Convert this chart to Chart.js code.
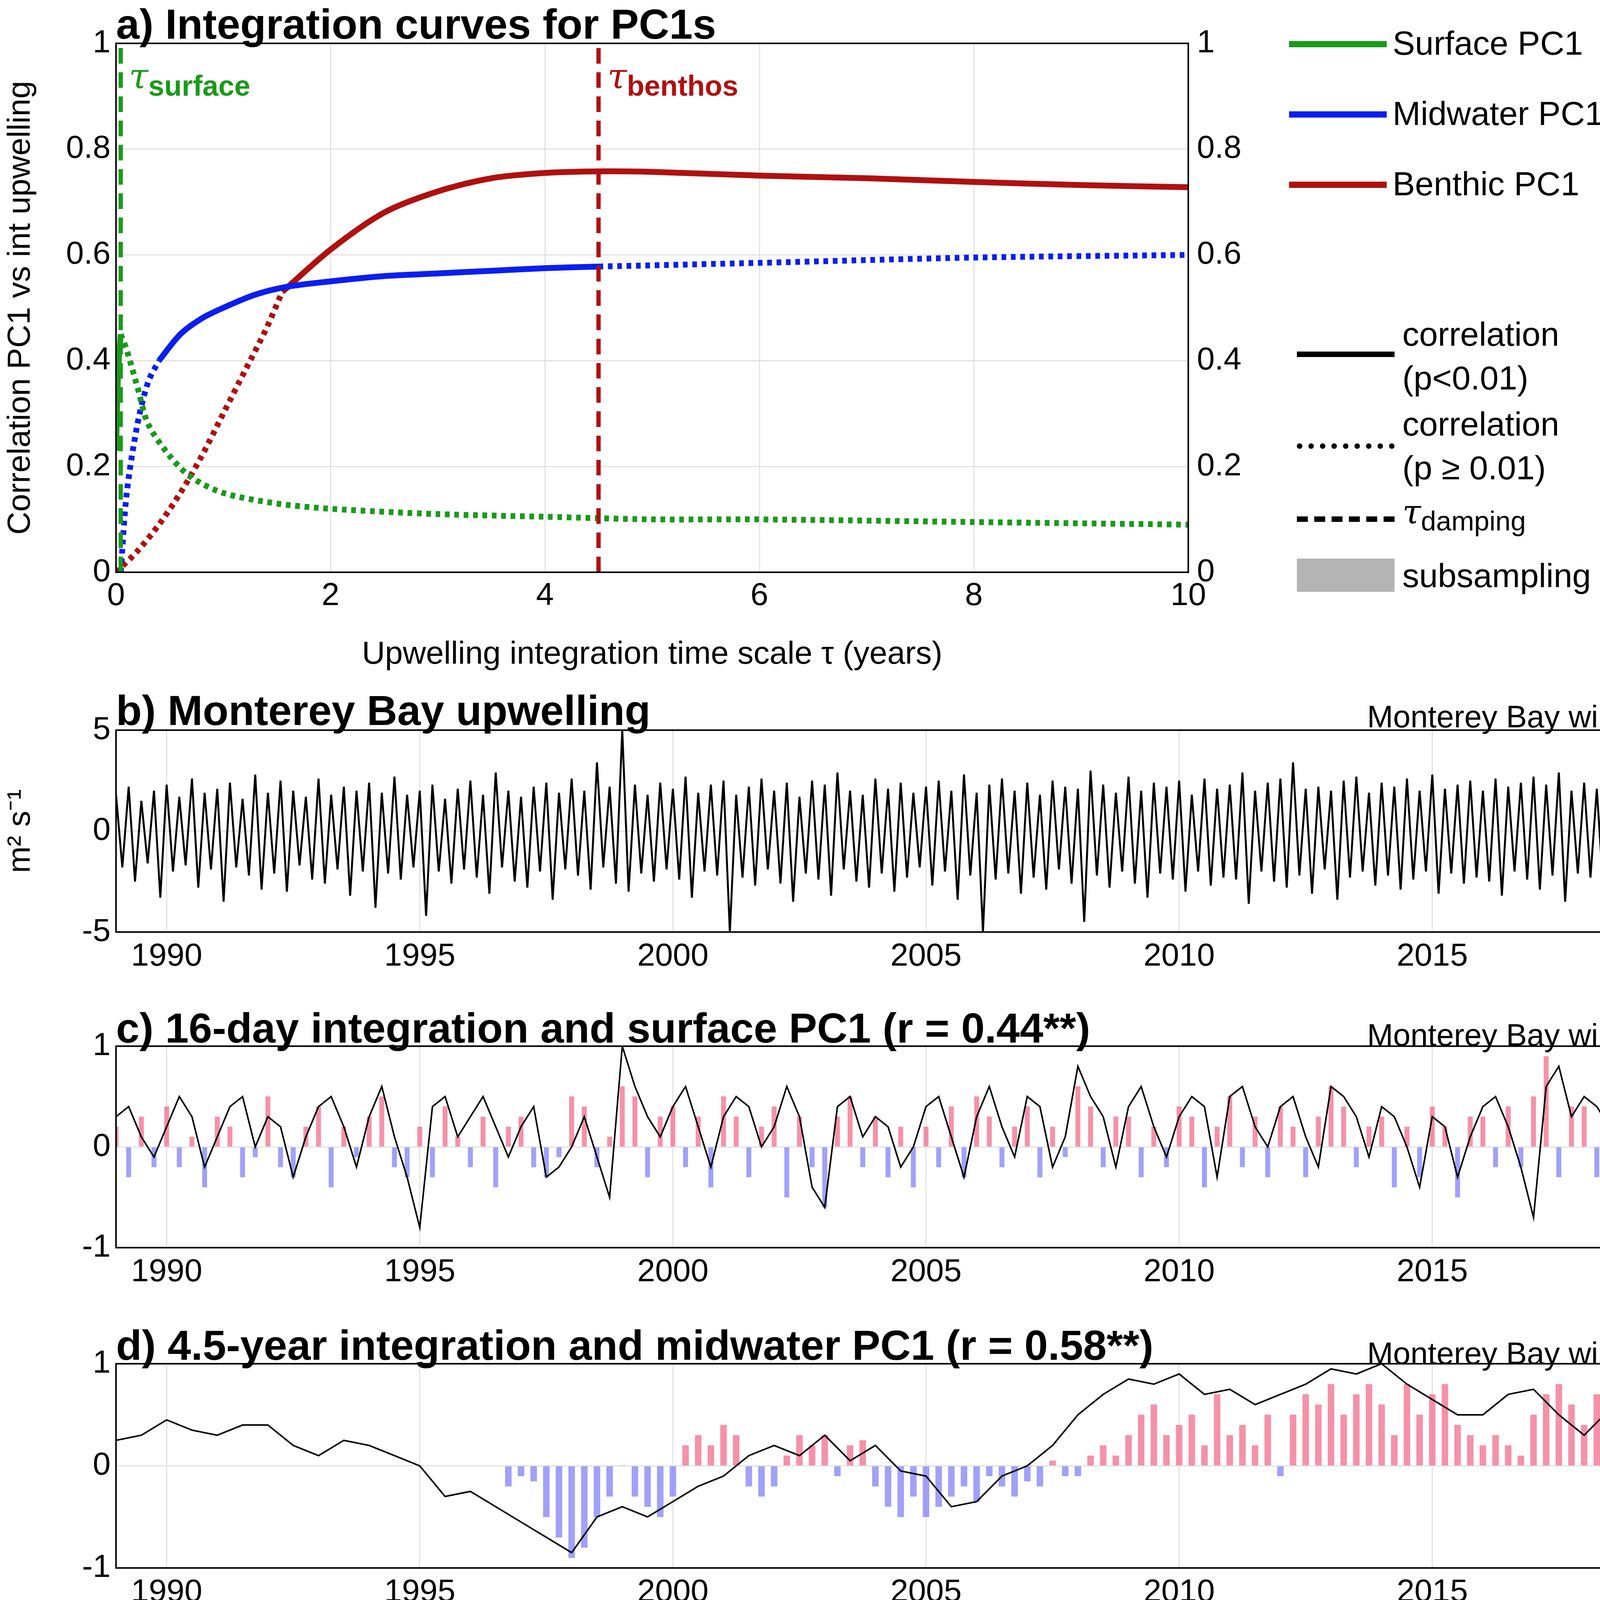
<!DOCTYPE html>
<html>
<head>
<meta charset="utf-8">
<script src="https://cdn.jsdelivr.net/npm/chart.js@4"></script>
<style>
  body { margin: 0; background: #fff; width: 4200px; height: 5775px; position: relative; overflow: hidden;
         font-family: "Liberation Sans", Arial, sans-serif; }
  canvas { position: absolute; left: 0; }
  .ttl { position: absolute; left: 297px; font-weight: bold; font-size: 108px; line-height: 1; white-space: nowrap; }
  .src { position: absolute; right: 20px; font-size: 80px; line-height: 1; white-space: nowrap; }
  .tau { position: absolute; font-size: 88px; font-weight: bold; line-height: 1; }
  .tau i { font-family: "DejaVu Serif", serif; font-weight: normal; font-size: 90px; }
  .leg { position: absolute; font-size: 86px; line-height: 1.3; white-space: nowrap; }
  .sw { position: absolute; height: 0; width: 250px; }
</style>
</head>
<body>
<canvas id="ca" width="3300" height="1690" style="top:40px"></canvas>
<canvas id="cb"></canvas><canvas id="cc"></canvas><canvas id="cd"></canvas>
<canvas id="ce"></canvas><canvas id="cf"></canvas>

<div class="ttl" style="top:8px">a) Integration curves for PC1s</div>
<div class="tau" style="left:330px;top:150px;color:#1a9a1a"><i>τ</i><sub>surface</sub></div>
<div class="tau" style="left:1555px;top:150px;color:#b01010"><i>τ</i><sub>benthos</sub></div>

<div class="sw" style="left:3300px;top:105px;border-top:16px solid #1a9a1a"></div>
<div class="leg" style="left:3565px;top:55px">Surface PC1</div>
<div class="sw" style="left:3300px;top:285px;border-top:16px solid #0a1ef0"></div>
<div class="leg" style="left:3565px;top:235px">Midwater PC1</div>
<div class="sw" style="left:3300px;top:465px;border-top:16px solid #b01010"></div>
<div class="leg" style="left:3565px;top:415px">Benthic PC1</div>
<div class="sw" style="left:3320px;top:900px;border-top:14px solid #000"></div>
<div class="leg" style="left:3590px;top:800px">correlation<br>(p&lt;0.01)</div>
<div class="sw" style="left:3320px;top:1135px;border-top:14px dotted #000"></div>
<div class="leg" style="left:3590px;top:1030px">correlation<br>(p ≥ 0.01)</div>
<div class="sw" style="left:3320px;top:1322px;border-top:14px dashed #000"></div>
<div class="leg" style="left:3590px;top:1255px"><i style="font-family:'DejaVu Serif',serif">τ</i><sub style="font-size:70px">damping</sub></div>
<div class="sw" style="left:3320px;top:1430px;height:85px;background:#b4b4b4"></div>
<div class="leg" style="left:3590px;top:1418px">subsampling</div>

<div class="ttl" style="top:1765px">b) Monterey Bay upwelling</div>
<div class="src" style="top:1795px">Monterey Bay wind</div>
<div class="ttl" style="top:2578px">c) 16-day integration and surface PC1 (r = 0.44**)</div>
<div class="src" style="top:2610px">Monterey Bay wind</div>
<div class="ttl" style="top:3390px">d) 4.5-year integration and midwater PC1 (r = 0.58**)</div>
<div class="src" style="top:3425px">Monterey Bay wind</div>
<div class="ttl" style="top:4205px">e) Point Conception upwelling</div>
<div class="src" style="top:4240px">Point Conception wind</div>
<div class="ttl" style="top:5020px">f) 4.5-year integration and benthic PC1 (r = 0.76***)</div>
<div class="src" style="top:5055px">Point Conception wind</div>

<script>
// --- panel a: integration curves ---
const tauSurface = 0.044;
const tauBenthos = 4.5;
const surfSolidX = [0, 0.02, 0.044];
const surfSolidY = [0.23, 0.38, 0.45];
const surfDotX = [0.044, 0.1, 0.2, 0.3, 0.5, 0.7, 1, 1.5, 2, 3, 4, 5, 6, 8, 10];
const surfDotY = [0.45, 0.42, 0.35, 0.28, 0.22, 0.18, 0.15, 0.13, 0.12, 0.11, 0.105, 0.1, 0.1, 0.095, 0.09];
const midDot1X = [0.044, 0.1, 0.2, 0.3, 0.4];
const midDot1Y = [0, 0.15, 0.28, 0.36, 0.4];
const midSolidX = [0.4, 0.6, 0.8, 1, 1.3, 1.6, 2, 2.5, 3, 3.5, 4, 4.5];
const midSolidY = [0.4, 0.45, 0.48, 0.5, 0.525, 0.54, 0.55, 0.56, 0.565, 0.57, 0.575, 0.578];
const midDot2X = [4.5, 6, 8, 10];
const midDot2Y = [0.578, 0.585, 0.595, 0.6];
const benDotX = [0, 0.2, 0.4, 0.6, 0.8, 1, 1.2, 1.4, 1.55];
const benDotY = [0, 0.04, 0.09, 0.15, 0.22, 0.3, 0.38, 0.46, 0.53];
const benSolidX = [1.55, 2, 2.5, 3, 3.5, 4, 4.5, 5, 6, 7, 8, 9, 10];
const benSolidY = [0.53, 0.61, 0.68, 0.72, 0.745, 0.755, 0.758, 0.757, 0.75, 0.745, 0.738, 0.732, 0.728];
const aYTicks = [0, 0.2, 0.4, 0.6, 0.8, 1];
const aXTicks = [0, 2, 4, 6, 8, 10];

// --- time panels ---
const yearTicks = [1990, 1995, 2000, 2005, 2010, 2015];
const qStart = 1989, qStep = 0.25;   // quarterly series
const bHi = [1.8,2.2,1.5,2.0, 2.3,1.7,2.6,1.9, 2.1,2.4,1.6,2.8, 1.9,2.5,2.0,1.7, 2.6,1.8,2.2,2.0,
  2.4,1.9,2.7,1.8, 2.0,2.3,1.6,2.1, 2.5,1.8,2.9,2.0, 1.7,2.2,2.4,1.9, 2.6,2.0,3.4,2.2,
  5.0,2.3,1.8,2.4, 2.1,2.7,1.9,2.3, 2.5,1.8,2.2,2.6, 2.0,2.4,1.7,2.5, 2.3,2.9,2.0,1.8,
  2.6,2.1,2.4,1.9, 2.2,2.5,2.0,2.8, 1.9,2.3,2.6,2.0, 2.4,1.8,2.5,2.2, 2.1,3.0,2.3,1.9,
  2.7,2.0,2.4,2.2, 2.5,1.8,2.6,2.1, 2.3,2.9,2.0,2.4, 2.6,3.4,2.1,2.2, 2.0,2.5,2.7,1.9,
  2.4,2.2,2.6,2.0, 2.8,2.1,2.3,2.5, 2.0,2.6,2.2,2.4, 2.7,2.3,2.9,2.0, 2.4,2.1,2.6,2.2];
const bLo = [-1.8,-2.5,-1.6,-3.3, -2.0,-1.7,-2.8,-1.9, -3.5,-1.8,-2.2,-2.9, -2.1,-3.0,-1.7,-2.4, -2.6,-1.9,-3.2,-2.0,
  -3.8,-2.1,-2.4,-1.8, -4.2,-2.0,-2.6,-1.9, -2.3,-3.1,-1.8,-2.5, -2.8,-2.0,-3.4,-1.9, -2.2,-2.9,-1.8,-2.6,
  -3.0,-2.1,-2.5,-1.9, -2.4,-3.3,-2.0,-2.2, -5.0,-2.3,-2.7,-1.9, -2.6,-3.5,-2.1,-2.4, -3.2,-1.9,-2.5,-2.8,
  -2.1,-3.0,-2.3,-1.8, -2.7,-2.0,-3.4,-2.2, -5.0,-2.4,-2.1,-3.1, -2.3,-2.9,-1.9,-2.6, -4.5,-2.2,-2.8,-2.0,
  -2.6,-3.3,-2.1,-2.4, -3.0,-2.0,-2.7,-2.3, -2.4,-3.6,-2.0,-2.5, -2.8,-2.2,-3.1,-1.9, -3.4,-2.3,-2.0,-2.7,
  -2.2,-2.9,-2.4,-2.0, -3.1,-2.1,-2.6,-2.3, -2.5,-3.2,-2.0,-2.4, -2.9,-2.2,-3.5,-2.1, -2.3,-2.8,-2.0,-2.6];
const eHi = [3.0,4.2,2.6,3.5, 2.8,4.8,3.1,2.5, 3.6,2.9,4.0,2.7, 3.3,2.6,4.5,3.0, 2.9,3.8,2.7,3.4,
  4.1,2.8,3.2,2.6, 3.5,4.6,2.9,3.1, 2.7,3.9,3.3,2.8, 4.3,3.0,2.6,3.6, 3.1,2.9,4.4,3.2,
  2.8,3.5,3.0,4.7, 3.3,2.7,3.8,3.0, 2.9,4.1,3.2,2.6, 3.7,3.0,4.9,2.8, 3.2,3.6,2.7,4.0,
  3.0,4.5,2.9,3.3, 2.7,3.8,3.1,5.0, 3.4,2.8,4.2,3.0, 3.6,3.1,2.9,4.8, 3.0,4.0,3.3,2.7,
  4.4,3.2,3.0,3.7, 2.9,4.9,3.1,3.4, 3.8,3.0,4.6,2.8, 3.3,5.0,3.0,3.9, 4.7,3.1,2.9,3.6,
  3.2,4.3,3.0,2.8, 3.7,3.3,4.8,3.0, 2.9,4.1,3.4,3.1, 5.0,3.0,3.6,2.9, 3.8,3.2,4.4,3.0];
const eLo = [-4.3,-2.7,-3.1,-2.5, -3.4,-2.8,-4.0,-2.6, -2.9,-3.6,-2.7,-3.2, -2.8,-4.2,-3.0,-2.6, -3.5,-2.9,-3.1,-4.4,
  -2.7,-3.3,-2.8,-3.0, -5.0,-2.9,-3.4,-2.7, -3.1,-3.8,-2.6,-3.0, -2.9,-3.2,-4.1,-2.8, -3.4,-2.7,-3.0,-3.6,
  -2.8,-3.3,-2.9,-3.1, -3.7,-2.8,-3.2,-2.9, -5.0,-3.0,-2.7,-3.4, -2.9,-3.9,-2.8,-3.2, -3.3,-2.7,-4.0,-2.9,
  -2.8,-3.5,-3.0,-2.7, -4.6,-3.0,-2.8,-3.3, -3.1,-2.9,-4.3,-2.8, -3.0,-3.6,-2.9,-3.1, -2.8,-3.3,-4.0,-2.9,
  -3.2,-2.8,-3.5,-3.0, -2.9,-3.4,-2.7,-3.8, -3.1,-2.8,-3.0,-3.3, -2.9,-3.7,-2.8,-3.1, -3.0,-2.9,-3.4,-2.8,
  -3.3,-3.0,-2.8,-3.6, -2.9,-3.2,-3.0,-2.8, -3.5,-2.9,-3.1,-2.8, -3.0,-4.5,-2.9,-3.2, -2.8,-3.3,-3.0,-2.9];

const cLine = [0.3,0.4,0.1,-0.1, 0.2,0.5,0.3,-0.2, 0.1,0.4,0.5,0.0, 0.3,0.2,-0.3,0.1, 0.4,0.5,0.2,-0.2,
  0.3,0.6,0.1,-0.3, -0.8,0.4,0.5,0.1, 0.3,0.5,0.2,-0.1, 0.2,0.4,-0.3,-0.2, 0.0,0.3,-0.1,-0.5,
  1.0,0.6,0.3,0.1, 0.4,0.6,0.2,-0.2, 0.3,0.5,0.4,0.0, 0.2,0.6,0.3,-0.4, -0.6,0.4,0.5,0.1,
  0.3,0.2,-0.2,0.0, 0.4,0.5,0.1,-0.3, 0.3,0.6,0.2,-0.1, 0.5,0.4,-0.2,0.1, 0.8,0.5,0.3,-0.2,
  0.4,0.6,0.2,-0.1, 0.3,0.5,0.4,-0.3, 0.5,0.6,0.2,0.0, 0.4,0.5,0.1,-0.2, 0.6,0.5,0.3,-0.1,
  0.4,0.3,0.0,-0.4, 0.3,0.2,-0.3,0.1, 0.4,0.5,0.2,-0.2, -0.7,0.6,0.8,0.3, 0.5,0.4,0.2,0.1];
const cBars = [0.2,-0.3,0.3,-0.2, 0.4,-0.2,0.1,-0.4, 0.3,0.2,-0.3,-0.1, 0.5,-0.2,-0.3,0.2, 0.4,-0.4,0.2,-0.1,
  0.3,0.5,-0.2,-0.3, 0.2,-0.3,0.4,0.1, -0.2,0.3,-0.4,0.2, 0.3,-0.2,-0.3,-0.1, 0.5,0.4,-0.2,0.1,
  0.6,0.5,-0.3,0.3, 0.4,-0.2,0.3,-0.4, 0.5,0.3,-0.3,0.2, 0.4,-0.5,0.3,-0.2, -0.6,0.3,0.5,-0.2,
  0.3,-0.3,0.2,-0.4, 0.2,-0.2,0.4,-0.3, 0.5,0.3,-0.2,0.2, 0.4,-0.3,0.2,-0.1, 0.6,0.4,-0.2,0.3,
  0.3,-0.3,0.2,-0.2, 0.4,0.3,-0.4,0.2, 0.5,-0.2,0.3,-0.3, 0.4,0.2,-0.3,0.3, 0.6,0.4,-0.2,0.2,
  0.3,-0.4,0.2,-0.3, 0.4,0.2,-0.5,0.3, 0.3,-0.2,0.4,-0.2, 0.5,0.9,-0.3,0.4, 0.4,-0.3,0.3,0.2];

const hStart = 1989, hStep = 0.5;   // half-yearly series
const dLine = [0.25,0.3, 0.45,0.35, 0.3,0.4, 0.4,0.2, 0.1,0.25, 0.2,0.1, 0.0,-0.3, -0.25,-0.4, -0.55,-0.7,
  -0.85,-0.5, -0.4,-0.5, -0.35,-0.2, -0.1,0.1, 0.2,0.1, 0.3,0.05, 0.2,-0.05, -0.1,-0.4, -0.35,-0.1,
  0.0,0.2, 0.5,0.7, 0.85,0.8, 0.9,0.7, 0.75,0.6, 0.7,0.8, 0.95,0.9, 1.0,0.8, 0.65,0.5, 0.5,0.7,
  0.75,0.5, 0.3,0.55, 0.5];
const dBarStart = 1996.75;
const dBars = [-0.2, -0.1,-0.15,-0.5,-0.7, -0.9,-0.8,-0.5,-0.3, 0.0,-0.3,-0.4,-0.5, -0.3,0.2,0.3,0.2,
  0.4,0.3,-0.2,-0.3, -0.2,0.1,0.3,0.2, 0.3,-0.1,0.2,0.25, -0.2,-0.4,-0.5,-0.3, -0.5,-0.4,-0.3,-0.2,
  -0.35,-0.1,-0.2,-0.3, -0.15,-0.2,0.05,-0.1, -0.1,0.1,0.2,0.1, 0.3,0.5,0.6,0.3, 0.4,0.5,0.2,0.7,
  0.3,0.4,0.2,0.5, -0.1,0.5,0.7,0.6, 0.8,0.5,0.7,0.8, 0.6,0.3,0.8,0.5, 0.7,0.8,0.4,0.3,
  0.2,0.3,0.2,0.1, 0.5,0.7,0.8,0.6, 0.4,0.7,0.3];
const fLine = [-0.35,-0.3, -0.4,-0.3, -0.25,-0.2, -0.3,-0.35, -0.45,-0.4, -0.35,-0.3, -0.4,-0.3, -0.2,-0.25,
  -0.15,-0.05, -0.05,0.05, 0.2,0.3, 0.2,0.1, 0.05,0.05, 0.0,-0.1, -0.2,-0.4, -0.6,-0.75, -0.95,-0.8,
  -0.7,-0.6, -0.5,-0.3, -0.1,0.15, 0.2,0.3, 0.4,0.45, 0.5,0.5, 0.55,0.6, 0.7,0.6, 0.6,0.5,
  0.4,0.35, 0.3,0.25, 0.2,0.3, 0.2,0.15, 0.15];
const fBarX = [1996.1,1996.4,1996.7,1998.6,1998.9, 2001.6,2002.4,2002.7,2003.5,2003.8,2004.4,
  2006.9,2007.2,2007.5,2007.8, 2009.3, 2011.3,2011.8,2012.3,2012.7,2013.0,2013.3,2013.6,2014.3,2014.8,
  2015.5,2016.5,2017.5,2018.0,2018.6];
const fBarY = [0.13,0.18,0.2,0.2,0.05, -0.05,-0.1,-0.25,-0.2,-0.3,-0.3,
  -0.5,-0.6,-0.6,-0.6, -0.2, 0.3,0.5,0.4,0.6,0.95,0.4,0.65,0.35,0.4,
  -0.02,-0.03,-0.05,-0.02,-0.02];

// --- helpers ---
const FONT = { family: '"Liberation Sans", Arial, sans-serif', size: 82 };
const RED = 'rgba(240,110,140,0.75)', BLUE = 'rgba(130,130,245,0.75)';
const GREEN = '#1a9a1a', MBLUE = '#0a1ef0', DRED = '#b01010';
Chart.defaults.font = FONT;
Chart.defaults.color = '#000';

const boxPlugin = {
  id: 'box',
  afterDraw(chart) {
    const a = chart.chartArea, ctx = chart.ctx;
    ctx.save(); ctx.strokeStyle = '#000'; ctx.lineWidth = 4;
    ctx.strokeRect(a.left, a.top, a.right - a.left, a.bottom - a.top);
    ctx.restore();
  }
};

const xy = (xs, ys) => xs.map((x, i) => ({ x, y: ys[i] }));
const series = (start, step, ys) => ys.map((y, i) => ({ x: start + i * step, y }));
const barColor = ys => ys.map(v => (v >= 0 ? RED : BLUE));
function zigzag(hi, lo) {
  const out = [];
  hi.forEach((h, i) => {
    out.push({ x: qStart + i * qStep, y: h });
    out.push({ x: qStart + i * qStep + qStep / 2, y: lo[i] });
  });
  return out;
}

function line(data, color, width, dash) {
  return { type: 'line', data, borderColor: color, borderWidth: width, borderDash: dash || [],
           pointRadius: 0, tension: 0.3, fill: false, order: 0 };
}

// --- panel a ---
new Chart(document.getElementById('ca'), {
  type: 'line',
  data: { datasets: [
    line([{ x: tauSurface, y: 0 }, { x: tauSurface, y: 1 }], GREEN, 11, [40, 22]),
    line([{ x: tauBenthos, y: 0 }, { x: tauBenthos, y: 1 }], DRED, 11, [40, 22]),
    line(xy(surfDotX, surfDotY), GREEN, 15, [12, 12]),
    line(xy(surfSolidX, surfSolidY), GREEN, 15),
    line(xy(midDot1X, midDot1Y), MBLUE, 15, [12, 12]),
    line(xy(midSolidX, midSolidY), MBLUE, 15),
    line(xy(midDot2X, midDot2Y), MBLUE, 15, [12, 12]),
    line(xy(benDotX, benDotY), DRED, 15, [12, 12]),
    line(xy(benSolidX, benSolidY), DRED, 15)
  ] },
  options: {
    responsive: false, animation: false, devicePixelRatio: 1,
    layout: { padding: { top: 71, left: 0, right: 0, bottom: 0 } },
    plugins: { legend: { display: false }, tooltip: { enabled: false } },
    scales: {
      x: { type: 'linear', min: 0, max: 10,
        afterBuildTicks: s => { s.ticks = aXTicks.map(v => ({ value: v })); },
        afterFit: s => { s.height = 265; },
        grid: { color: '#e2e2e2', lineWidth: 3, tickLength: 0 }, border: { display: false },
        ticks: { padding: 12, maxRotation: 0 },
        title: { display: true, text: 'Upwelling integration time scale τ (years)', padding: { top: 10 } } },
      y: { min: 0, max: 1,
        afterBuildTicks: s => { s.ticks = aYTicks.map(v => ({ value: v })); },
        afterFit: s => { s.width = 297; },
        grid: { color: '#e2e2e2', lineWidth: 3, tickLength: 0 }, border: { display: false },
        ticks: { padding: 14, callback: v => String(v) },
        title: { display: true, text: 'Correlation PC1 vs int upwelling', padding: { bottom: 10 } } },
      y2: { position: 'right', min: 0, max: 1,
        afterBuildTicks: s => { s.ticks = aYTicks.map(v => ({ value: v })); },
        afterFit: s => { s.width = 258; },
        grid: { display: false }, border: { display: false },
        ticks: { padding: 14, callback: v => String(v) } }
    }
  },
  plugins: [boxPlugin]
});

// --- time panels ---
function timePanel(id, plotTop, plotBottom, yLim, yTicks, datasets, yTitle) {
  const cv = document.getElementById(id);
  const padTop = 60, axisH = 130;
  cv.width = 4200;
  cv.height = plotBottom - plotTop + padTop + axisH + 10;
  cv.style.top = (plotTop - padTop) + 'px';
  new Chart(cv, {
    type: 'bar',
    data: { datasets },
    options: {
      responsive: false, animation: false, devicePixelRatio: 1,
      layout: { padding: { top: padTop, left: 0, right: 15, bottom: 10 } },
      plugins: { legend: { display: false }, tooltip: { enabled: false } },
      scales: {
        x: { type: 'linear', min: 1989, max: 2019, offset: false,
          afterBuildTicks: s => { s.ticks = yearTicks.map(v => ({ value: v })); },
          afterFit: s => { s.height = axisH; },
          grid: { color: '#e2e2e2', lineWidth: 3, tickLength: 0, offset: false }, border: { display: false },
          ticks: { padding: 14, maxRotation: 0, callback: v => String(v) } },
        y: { min: -yLim, max: yLim,
          afterBuildTicks: s => { s.ticks = yTicks.map(v => ({ value: v })); },
          afterFit: s => { s.width = 297; },
          grid: { color: '#e2e2e2', lineWidth: 3, tickLength: 0 }, border: { display: false },
          ticks: { padding: 14, callback: v => String(v) },
          title: { display: !!yTitle, text: yTitle || '', padding: { bottom: 0 } } }
      }
    },
    plugins: [boxPlugin]
  });
}

function bars(data, colors, thick) {
  return { type: 'bar', data, backgroundColor: colors, barThickness: thick, order: 2 };
}
function tsLine(data, width) {
  return { type: 'line', data, borderColor: '#000', borderWidth: width, pointRadius: 0, tension: 0, order: 0 };
}

timePanel('cb', 1866, 2386, 5, [-5, 0, 5], [tsLine(zigzag(bHi, bLo), 5)], 'm² s⁻¹');
timePanel('cc', 2675, 3194, 1, [-1, 0, 1], [
  bars(series(qStart, qStep, cBars), barColor(cBars), 12),
  tsLine(series(qStart, qStep, cLine), 4)]);
timePanel('cd', 3488, 4014, 1, [-1, 0, 1], [
  bars(series(dBarStart, qStep, dBars), barColor(dBars), 16),
  tsLine(series(hStart, hStep, dLine), 4)]);
timePanel('ce', 4304, 4827, 5, [-5, 0, 5], [tsLine(zigzag(eHi, eLo), 5)], 'm² s⁻¹');
timePanel('cf', 5120, 5640, 1, [-1, 0, 1], [
  bars(xy(fBarX, fBarY), barColor(fBarY), 30),
  tsLine(series(hStart, hStep, fLine), 4)]);
</script>
</body>
</html>
